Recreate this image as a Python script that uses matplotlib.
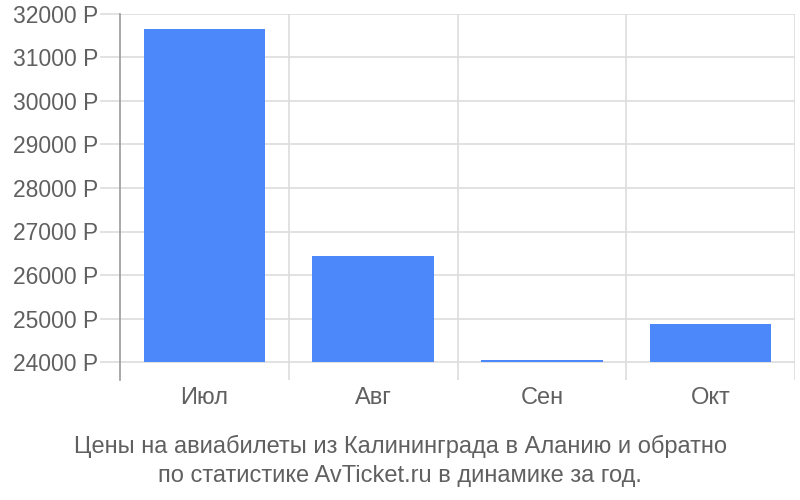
import matplotlib.pyplot as plt
from matplotlib.ticker import FixedLocator

plt.rcParams['font.family'] = ['Liberation Sans', 'DejaVu Sans']

# Data
months = ['Июл', 'Авг', 'Сен', 'Окт']
prices = [31660, 26440, 24040, 24870]
y_ticks = [24000, 25000, 26000, 27000, 28000, 29000, 30000, 31000, 32000]
caption = ('Цены на авиабилеты из Калининграда в Аланию и обратно\n'
           'по статистике AvTicket.ru в динамике за год.')

base = 24000
grid_col = '#dddddd'
text_col = '#606060'
px = 72 / 100  # points per pixel

fig = plt.figure(figsize=(8, 5), dpi=100)
ax = fig.add_axes([120 / 800, 1 - 380 / 500, 675 / 800, 366 / 500])

x = range(len(months))
ax.bar(x, [p - base for p in prices], bottom=base, width=0.72,
       color='#4d88fa', zorder=3)

ax.set_xlim(-0.5, len(months) - 0.5)
ax.set_ylim(base - 18 / 43.5 * 1000, 32000)

# horizontal grid, with ticks drawn as grid extension
ax.set_yticks(y_ticks)
ax.set_yticklabels([f'{t} Р' for t in y_ticks])
ax.yaxis.grid(True, color=grid_col, linewidth=1.2, zorder=0)
ax.tick_params(axis='y', length=20 * px, color=grid_col, width=1.2,
               labelsize=16.5, labelcolor=text_col, pad=2 * px)

# vertical separators between categories
ax.xaxis.set_minor_locator(FixedLocator([i + 0.5 for i in x]))
ax.xaxis.grid(True, which='minor', color=grid_col, linewidth=1.2, zorder=0)
ax.set_xticks(list(x))
ax.set_xticklabels(months)
ax.tick_params(axis='x', which='major', length=0, labelsize=17,
               labelcolor=text_col, pad=5)
ax.tick_params(axis='x', which='minor', length=0)

for s in ['top', 'right', 'bottom']:
    ax.spines[s].set_visible(False)
ax.spines['left'].set_color('#999999')
ax.spines['left'].set_linewidth(1.2)

fig.text(0.5, 0.078, caption, ha='center', va='center', fontsize=17,
         color=text_col, linespacing=1.42)

fig.savefig('out.png', dpi=100)
